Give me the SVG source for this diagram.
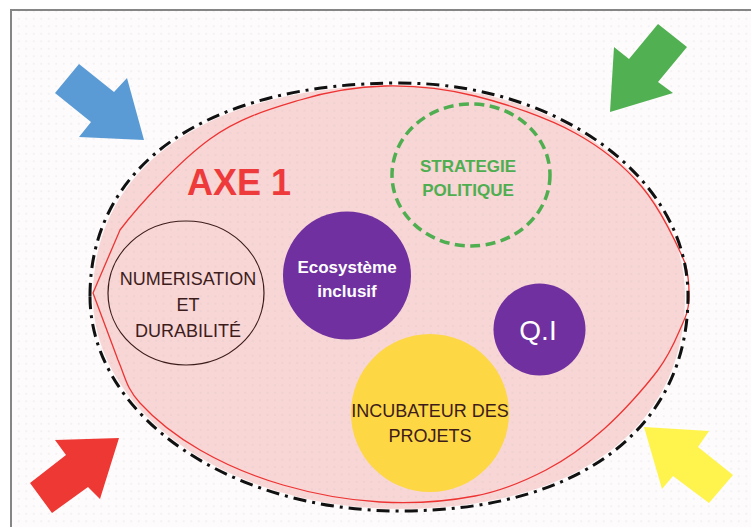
<svg xmlns="http://www.w3.org/2000/svg" width="751" height="527" viewBox="0 0 751 527">
  <defs>
    <pattern id="dots" width="7.5" height="7.5" patternUnits="userSpaceOnUse">
      <circle cx="3.75" cy="3.75" r="0.7" fill="#b9b0b0" fill-opacity="0.35"/>
    </pattern>
    <path id="outline" d="M90,296 C90,164 207.8,83 400,83 C559,83 688,178.4 688,296 C688,429 578.6,511 400,511 C228.9,511 90,414.7 90,296 Z"/>
  </defs>
  <style>
    .lbl { font-family: "Liberation Sans", Arial, sans-serif; text-anchor: middle; }
    .dark { fill: #3d1c1c; font-size: 18px; }
    .white { fill: #ffffff; }
    .green { fill: #4fae50; font-size: 17px; font-weight: bold; }
    .purple { fill: #7030a0; }
  </style>

  <!-- background frame -->
  <rect x="0" y="0" width="751" height="527" fill="#ffffff"/>
  <rect x="11" y="10" width="740" height="517" fill="#fdfbfb"/>
  <rect x="11" y="10" width="740" height="517" fill="url(#dots)"/>
  <path d="M11,527 L11,10 L751,10" fill="none" stroke="#858585" stroke-width="2"/>

  <!-- main area -->
  <g id="axe1-area">
    <use href="#outline" fill="#f7d6d5" transform="translate(389 296) scale(0.99) translate(-389 -296)"/>
    <use href="#outline" fill="url(#dots)" transform="translate(389 296) scale(0.99) translate(-389 -296)"/>
    <path d="M93,293 L120,230 C139.5,204.3 180,160.7 210,139 C240,117.3 270.8,108.8 300,100 C329.2,91.2 355.8,86.7 385,86 C414.2,85.3 443.3,88.2 475,96 C506.7,103.8 547.2,117.8 575,133 C602.8,148.2 623.7,165.3 642,187 C660.3,208.7 677.2,244.2 685,263 C690,280 689,290 689,300 C688,310 687.2,313.3 682,325 C676.8,336.7 671,352.7 658,370 C645,387.3 622.7,412.3 604,429 C585.3,445.7 567.5,458.8 546,470 C524.5,481.2 502.7,490.7 475,496 C447.3,501.3 412,503.8 380,502 C348,500.2 313,493.7 283,485 C253,476.3 223.8,463.7 200,450 C176.2,436.3 153.7,418 140,403 C126.3,388 125.8,378.3 118,360 Z" fill="none" stroke="#ee3333" stroke-width="1.3"/>
    <use href="#outline" fill="none" stroke="#111111" stroke-width="3" stroke-dasharray="13 6 3 6"/>
    <text class="lbl" x="239" y="195" font-size="36" font-weight="bold" fill="#ee3a3a">AXE 1</text>
  </g>

  <g id="numerisation">
    <ellipse cx="186" cy="293" rx="78" ry="72" fill="none" stroke="#3d1c1c" stroke-width="1.2"/>
    <text class="lbl dark" x="188" y="285">NUMERISATION</text>
    <text class="lbl dark" x="188" y="311">ET</text>
    <text class="lbl dark" x="188" y="337">DURABILITÉ</text>
  </g>

  <g id="ecosysteme">
    <circle cx="347" cy="275.5" r="64" class="purple"/>
    <text class="lbl white" x="347" y="273" font-size="17" font-weight="bold">Ecosystème</text>
    <text class="lbl white" x="347" y="297" font-size="17" font-weight="bold">inclusif</text>
  </g>

  <g id="strategie">
    <ellipse cx="471" cy="175" rx="79" ry="71" fill="none" stroke="#4fae50" stroke-width="3.5" stroke-dasharray="10 5.5"/>
    <text class="lbl green" x="468" y="172">STRATEGIE</text>
    <text class="lbl green" x="468" y="196">POLITIQUE</text>
  </g>

  <g id="qi">
    <circle cx="539.5" cy="329.5" r="46" class="purple"/>
    <text class="lbl white" x="538" y="340" font-size="28">Q.I</text>
  </g>

  <g id="incubateur">
    <circle cx="430" cy="413" r="79" fill="#fdd744"/>
    <text class="lbl dark" x="430" y="417" font-size="17.5">INCUBATEUR DES</text>
    <text class="lbl dark" x="430" y="442" font-size="17.5">PROJETS</text>
  </g>

  <!-- block arrows pointing at the area -->
  <g id="arrows">
    <polygon id="arrow-blue" points="79,64 114,92 127,78 144,140 79,137 91,122 55,93" fill="#5b9bd5"/>
    <polygon id="arrow-green" points="658,24 687,47 658,82 673,93 610,112 614,47 629,59" fill="#50b052"/>
    <polygon id="arrow-red" points="119,438 55,440 66,455 30,483 52,513 88,487 100,499" fill="#ee3833"/>
    <polygon id="arrow-yellow" points="644,427 709,431 698,447 733,475 709,503 673,476 662,489" fill="#fff44d"/>
  </g>
</svg>
